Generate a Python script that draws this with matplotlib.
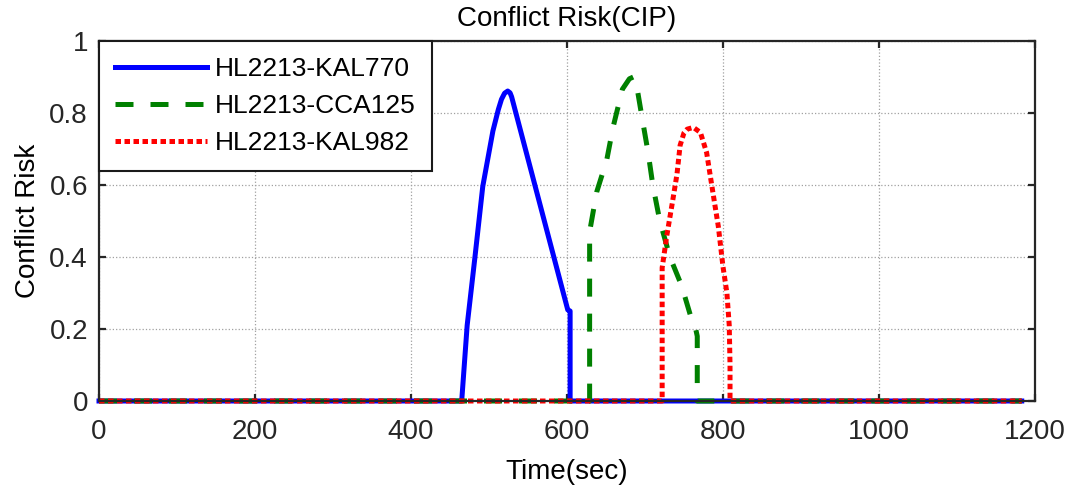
import numpy as np
import matplotlib.pyplot as plt

plt.rcParams['font.family'] = ['Liberation Sans', 'DejaVu Sans']

# --- data (time in sec, conflict risk) ---
t_kal770 = [0, 465, 472, 482, 492, 505, 512, 516, 520, 524, 527, 529, 601, 604, 604, 1183]
r_kal770 = [0, 0, 0.21, 0.40, 0.596, 0.75, 0.81, 0.838, 0.855, 0.861, 0.856, 0.845, 0.253, 0.25, 0, 0]

t_cca125 = [0, 629, 629, 638, 651, 659, 671, 680, 685, 689, 696, 704, 710, 719, 732, 747, 760, 765, 767, 767, 1183]
r_cca125 = [0, 0, 0.47, 0.58, 0.67, 0.76, 0.866, 0.895, 0.90, 0.88, 0.79, 0.69, 0.60, 0.50, 0.40, 0.32, 0.225, 0.2, 0.18, 0, 0]

t_kal982 = [0, 722, 722, 728, 735, 741, 745, 750, 754, 762, 771, 779, 787, 794, 800, 805, 808, 809, 809, 1183]
r_kal982 = [0, 0, 0.37, 0.46, 0.55, 0.63, 0.71, 0.745, 0.755, 0.76, 0.746, 0.69, 0.58, 0.485, 0.373, 0.30, 0.21, 0.1, 0, 0]

labels = ['HL2213-KAL770', 'HL2213-CCA125', 'HL2213-KAL982']

fig = plt.figure(figsize=(10.74, 4.92), dpi=100)
ax = fig.add_axes([99/1074, 1 - 401/492, 936/1074, 360/492])

lw = 3.6
ax.plot(t_kal770, r_kal770, color='#0000ff', lw=lw, label=labels[0], clip_on=False)
ax.plot(t_cca125, r_cca125, color='#008000', lw=lw, linestyle=(0, (3.6, 3.4)),
        dash_capstyle='butt', label=labels[1], clip_on=False)
ax.plot(t_kal982, r_kal982, color='#ff0000', lw=lw, linestyle=(0, (1.1, 0.7)),
        dash_capstyle='butt', label=labels[2], clip_on=False)

ax.set_xlim(0, 1200)
ax.set_ylim(0, 1)
ax.set_xticks(np.arange(0, 1201, 200))
ax.set_yticks([0, 0.2, 0.4, 0.6, 0.8, 1])
ax.set_yticklabels(['0', '0.2', '0.4', '0.6', '0.8', '1'])

ax.grid(True, linestyle=':', color='#a0a0a0', linewidth=0.9)
ax.set_axisbelow(True)
for s in ax.spines.values():
    s.set_linewidth(1.6)
    s.set_color('#262626')
ax.tick_params(direction='in', length=5, width=1.6, color='#262626',
               top=True, right=True, labelsize=20, labelcolor='#262626')
ax.tick_params(axis='x', pad=13)
ax.tick_params(axis='y', pad=8)

ax.set_title('Conflict Risk(CIP)', fontsize=20, pad=11)
ax.set_xlabel('Time(sec)', fontsize=20, labelpad=10)
ax.set_ylabel('Conflict Risk', fontsize=20, labelpad=6)

leg = ax.legend(loc='upper left', fontsize=19, handlelength=3.5, handletextpad=0.3,
                borderaxespad=0, borderpad=0.6, labelspacing=0.5, fancybox=False,
                framealpha=1, edgecolor='#1a1a1a')
leg.get_frame().set_linewidth(1.5)
leg.set_zorder(5)

fig.savefig('out.png', dpi=100)
